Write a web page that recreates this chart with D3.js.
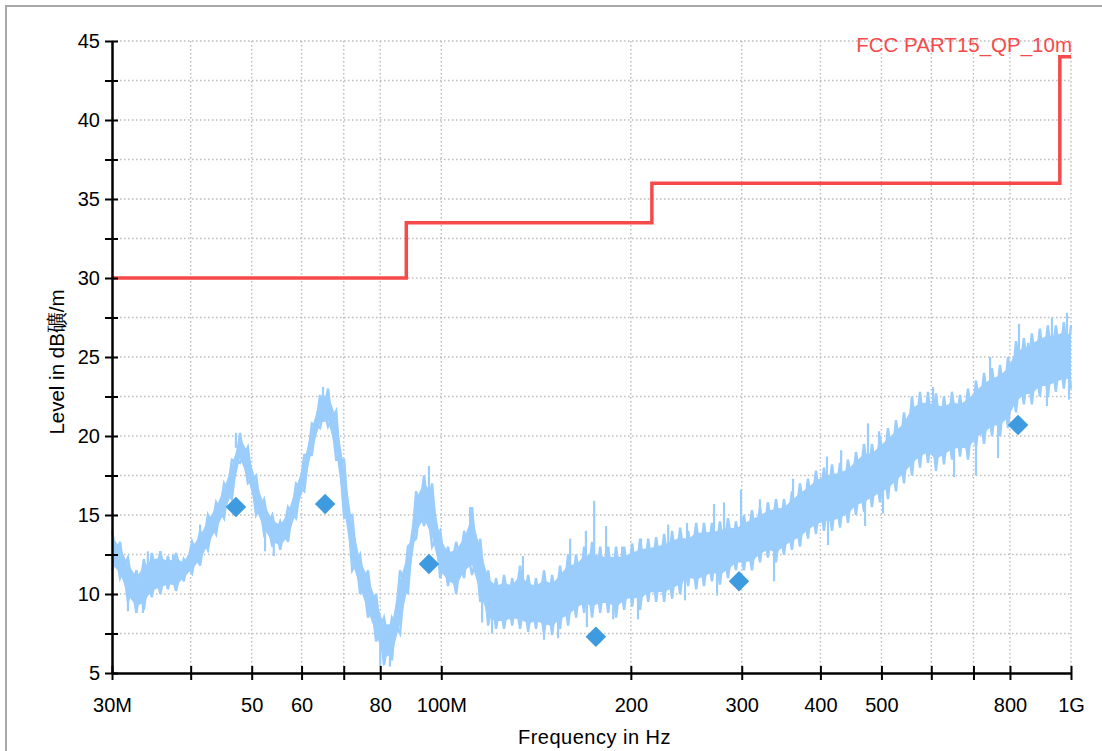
<!DOCTYPE html>
<html>
<head>
<meta charset="utf-8">
<script src="https://cdn.jsdelivr.net/npm/d3@7"></script>
<style>
  html, body { margin: 0; padding: 0; background: #fff; }
  svg { display: block; font-family: "Liberation Sans", Arial, Helvetica, sans-serif; }
</style>
</head>
<body>
<div id="chart"></div>
<script>
const freqMHz = [30.0, 30.9, 31.8, 32.8, 33.7, 34.7, 35.8, 36.8, 37.9, 39.0, 40.2, 41.4, 42.6, 43.9, 45.2, 46.5,
  47.9, 49.3, 50.8, 52.3, 53.9, 55.5, 57.1, 58.8, 60.6, 62.3, 64.2, 66.1, 68.1, 70.1, 72.2, 74.3, 76.5, 78.8,
  81.1, 83.5, 86.0, 88.5, 91.2, 93.9, 96.7, 99.6, 102.5, 105.6, 108.7, 111.9, 115.3, 118.7, 122.2, 125.8, 129.6,
  133.4, 137.4, 141.4, 145.6, 150.0, 154.4, 159.0, 163.7, 168.6, 173.6, 178.8, 184.1, 189.5, 195.2, 201.0, 206.9,
  213.1, 219.4, 225.9, 232.6, 239.5, 246.6, 254.0, 261.3, 269.0, 277.0, 285.3, 293.7, 302.4, 311.4, 320.7, 330.2,
  340.0, 350.1, 360.5, 371.2, 382.2, 393.5, 405.2, 417.3, 429.7, 442.4, 455.6, 469.1, 483.0, 497.4, 512.1, 527.3,
  543.0, 559.1, 575.7, 592.8, 610.4, 628.5, 647.2, 666.4, 686.2, 706.6, 727.6, 749.2, 771.4, 794.3, 817.9, 841.6,
  866.6, 892.3, 918.8, 946.1, 974.2, 1000];
const levelLo = [11.5, 11.0, 9.5, 8.8, 9.0, 9.8, 10.0, 10.3, 10.2, 10.8, 11.3, 11.8, 12.8, 13.8, 14.8, 16.0,
  18.3, 17.0, 15.0, 13.8, 13.0, 12.8, 13.3, 14.8, 16.5, 18.8, 20.5, 20.6, 18.5, 14.8, 11.5, 10.0, 8.5, 7.0,
  5.5, 5.8, 7.5, 10.0, 13.5, 14.3, 13.0, 11.0, 10.5, 10.0, 11.0, 11.2, 9.5, 8.0, 7.8, 7.8, 8.0,
  7.8, 7.6, 7.8, 7.5, 7.4, 7.8, 8.0, 8.5, 8.8, 8.5, 8.8, 8.8, 8.5, 9.0, 9.2, 9.0,
  9.5, 9.5, 9.5, 9.7, 10.0, 10.5, 10.3, 10.5, 10.8, 10.6, 11.0, 11.5, 11.5, 11.5, 12.0, 12.3,
  12.0, 12.5, 12.8, 13.0, 13.5, 13.8, 14.0, 14.0, 14.2, 14.5, 15.0, 15.2, 15.5, 15.8, 16.0, 16.5,
  17.0, 17.5, 18.0, 18.3, 17.8, 18.2, 18.5, 18.7, 18.5, 19.3, 19.5, 20.0, 20.0, 20.5, 21.5, 22.0,
  22.0, 22.5, 22.5, 22.8, 23.0, 23.0];
const levelHi = [14.0, 13.3, 12.3, 11.5, 12.2, 12.6, 12.7, 12.4, 12.6, 12.2, 13.3, 14.0, 15.0, 15.8, 17.0, 18.5,
  20.2, 19.3, 17.5, 16.0, 15.0, 14.6, 15.5, 17.0, 18.8, 20.8, 22.6, 23.0, 21.6, 18.5, 15.0, 12.5, 11.5, 10.0,
  8.5, 8.5, 11.5, 13.0, 16.5, 17.5, 17.0, 14.0, 13.0, 13.3, 14.0, 15.5, 13.5, 11.5, 11.0, 11.2, 11.0,
  11.8, 11.2, 11.0, 11.5, 11.2, 11.8, 12.5, 12.5, 13.0, 13.3, 13.0, 13.0, 13.0, 13.0, 13.2, 13.5,
  13.5, 13.6, 13.8, 14.0, 14.2, 14.0, 14.5, 14.5, 14.5, 14.6, 14.8, 14.6, 15.0, 15.3, 15.5, 15.8,
  16.0, 16.0, 16.5, 17.0, 17.3, 17.8, 18.0, 18.2, 18.3, 18.5, 19.0, 19.5, 19.5, 20.0, 20.5, 21.0,
  21.5, 22.5, 22.8, 22.8, 22.7, 22.5, 22.8, 22.6, 23.0, 23.5, 24.0, 24.3, 24.5, 25.0, 26.0, 26.2,
  26.5, 26.8, 27.0, 27.0, 27.2, 27.0];

// Single spikes sticking out of the band
const spikeFreq = [31.8, 33.6, 34.2, 35.8, 37.5, 41.4, 47.2, 52.5, 54.2, 64.9, 69.6, 80.0, 82.9, 95.6, 111.1,
  116.1, 120.4, 134.8, 145.6, 153.3, 160.2, 169.7, 170.3, 174.9, 182.7, 187.5, 193.7, 205.3, 207.6, 229.3,
  243.8, 245.6, 271.1, 274.1, 281.2, 299.2, 320.7, 330.2, 337.6, 361.9, 409.7, 411.3, 431.5, 470.9, 476.0,
  495.6, 502.9, 559.4, 603.9, 652.1, 706.5, 743.9, 765.8, 826.8, 854.5, 915.9, 932.8, 985.5, 992.8];
const spikeLevel = [8.9, 8.8, 12.7, 12.5, 12.5, 14.4, 20.2, 12.7, 12.4, 23.1, 18.1, 5.4, 5.4, 18.1, 15.5,
  8.2, 7.5, 12.4, 7.1, 7.2, 13.5, 14.0, 7.9, 15.9, 14.3, 8.4, 13.0, 8.4, 13.5, 14.4,
  9.6, 14.5, 15.7, 9.9, 15.8, 16.6, 16.0, 15.8, 10.8, 17.3, 18.7, 13.1, 19.1, 14.3, 20.8,
  20.3, 15.1, 21.5, 23.1, 17.4, 17.5, 25.0, 18.6, 27.1, 25.9, 21.9, 27.5, 27.8, 22.3];

// Final quasi-peak results
const markerFreq = [47.2, 65.4, 95.6, 176, 297, 824];
const markerLevel = [15.5, 15.7, 11.9, 7.3, 10.8, 20.7];

// Limit line FCC Part 15 QP 10m
const limitName = "FCC PART15_QP_10m";
const limitFreq = [30, 88, 88, 216, 216, 960, 960, 1000];
const limitLevel = [30, 30, 33.5, 33.5, 36, 36, 44, 44];

const xTickValues = [30, 40, 50, 60, 70, 80, 100, 200, 300, 400, 500, 600, 700, 800, 1000];
const xTickLabels = { 30: "30M", 50: "50", 60: "60", 80: "80", 100: "100M", 200: "200", 300: "300",
  400: "400", 500: "500", 800: "800", 1000: "1G" };
const yTickValues = [5, 7.5, 10, 12.5, 15, 17.5, 20, 22.5, 25, 27.5, 30, 32.5, 35, 37.5, 40, 42.5, 45];
const yTickLabels = [5, 10, 15, 20, 25, 30, 35, 40, 45];

const xTitle = "Frequency in Hz";
const yTitle = "Level in dB礦/m";

const width = 1102, height = 751;
const margin = { top: 41, right: 31, bottom: 78, left: 112 };
const iw = width - margin.left - margin.right;
const ih = height - margin.top - margin.bottom;

const traceColor = "#9bcdfc";
const markerColor = "#3e9be0";
const limitColor = "#f64a4a";

const x = d3.scaleLog().domain([30, 1000]).range([0, iw]);
const y = d3.scaleLinear().domain([5, 45]).range([ih, 0]);

const svg = d3.select("#chart").append("svg")
  .attr("width", width)
  .attr("height", height);

svg.append("rect").attr("width", width).attr("height", height).attr("fill", "#fff");

// outer frame
svg.append("path")
  .attr("d", `M6,${height + 5}V6H${width + 5}`)
  .attr("fill", "none")
  .attr("stroke", "#a8a8a8")
  .attr("stroke-width", 2);

const g = svg.append("g").attr("transform", `translate(${margin.left},${margin.top})`);

// grid
const grid = g.append("g")
  .attr("stroke", "#bdbdbd")
  .attr("stroke-width", 1.5)
  .attr("stroke-dasharray", "1.5,2.5");
grid.selectAll(".hg")
  .data(yTickValues.filter(v => v > 5))
  .join("line")
  .attr("x1", 0).attr("x2", iw)
  .attr("y1", d => y(d)).attr("y2", d => y(d));
grid.selectAll(".vg")
  .data(xTickValues.filter(v => v > 30))
  .join("line")
  .attr("y1", 0).attr("y2", ih)
  .attr("x1", d => x(d)).attr("x2", d => x(d));

// measured trace: solid core of the band plus a min/max zigzag for texture
const bins = freqMHz.map((f, i) => ({ f, lo: levelLo[i], hi: levelHi[i] }));
const trace = g.append("g");
trace.append("path")
  .datum(bins)
  .attr("fill", traceColor)
  .attr("d", d3.area()
    .x(d => x(d.f))
    .y0(d => y(d.lo + (d.hi - d.lo) * 0.15))
    .y1(d => y(d.hi - (d.hi - d.lo) * 0.15)));

trace.append("path")
  .datum(bins)
  .attr("fill", "none")
  .attr("stroke", traceColor)
  .attr("stroke-width", 2.4)
  .attr("d", d3.line()
    .x(d => x(d.f))
    .y((d, i) => y(i % 2 ? d.hi : d.lo)));

trace.append("path")
  .datum(bins)
  .attr("fill", "none")
  .attr("stroke", traceColor)
  .attr("stroke-width", 2.4)
  .attr("d", d3.line()
    .x(d => x(d.f))
    .y((d, i) => y(i % 2 ? d.lo : d.hi)));

const bis = d3.bisector(d => d.f).center;
trace.append("g")
  .attr("stroke", traceColor)
  .attr("stroke-width", 2.2)
  .selectAll("line")
  .data(spikeFreq.map((f, i) => ({ f, v: spikeLevel[i] })))
  .join("line")
  .attr("x1", d => x(d.f)).attr("x2", d => x(d.f))
  .attr("y1", d => y(d.v))
  .attr("y2", d => {
    const b = bins[bis(bins, d.f)];
    return y((b.lo + b.hi) / 2);
  });

// limit line
g.append("path")
  .datum(limitFreq.map((f, i) => [f, limitLevel[i]]))
  .attr("fill", "none")
  .attr("stroke", limitColor)
  .attr("stroke-width", 3.5)
  .attr("d", d3.line().x(d => x(d[0])).y(d => y(d[1])));

g.append("text")
  .attr("x", iw + 1)
  .attr("y", 11)
  .attr("text-anchor", "end")
  .attr("fill", limitColor)
  .attr("font-size", 20.5)
  .text(limitName);

// markers
g.append("g")
  .selectAll("path")
  .data(markerFreq.map((f, i) => ({ f, v: markerLevel[i] })))
  .join("path")
  .attr("fill", markerColor)
  .attr("d", d3.symbol(d3.symbolSquare, 210))
  .attr("transform", d => `translate(${x(d.f)},${y(d.v)}) rotate(45)`);

// axes
const xAxis = d3.axisBottom(x)
  .tickValues(xTickValues)
  .tickFormat(d => xTickLabels[d] || "")
  .tickSizeInner(7)
  .tickSizeOuter(0)
  .tickPadding(18);
const xg = g.append("g").attr("transform", `translate(0,${ih})`).call(xAxis);
xg.select(".domain").attr("stroke", "#000").attr("stroke-width", 2.5);
xg.selectAll(".tick line").attr("stroke", "#000").attr("stroke-width", 2).attr("y1", -7);
xg.selectAll(".tick text").attr("font-size", 20).attr("fill", "#000")
  .attr("font-family", "'Liberation Sans', Arial, sans-serif");

const yAxis = d3.axisLeft(y)
  .tickValues(yTickValues)
  .tickFormat(d => yTickLabels.includes(d) ? d3.format("d")(d) : "")
  .tickSizeInner(7)
  .tickSizeOuter(0)
  .tickPadding(5);
const yg = g.append("g").call(yAxis);
yg.select(".domain").attr("stroke", "#000").attr("stroke-width", 2.5);
yg.selectAll(".tick line").attr("stroke", "#000").attr("stroke-width", 2).attr("x1", 6);
yg.selectAll(".tick text").attr("font-size", 20).attr("fill", "#000")
  .attr("font-family", "'Liberation Sans', Arial, sans-serif");

// axis titles
svg.append("text")
  .attr("x", margin.left + iw / 2 + 3)
  .attr("y", 744)
  .attr("text-anchor", "middle")
  .attr("font-size", 20)
  .attr("letter-spacing", 0.5)
  .text(xTitle);

svg.append("text")
  .attr("transform", `translate(64,${362}) rotate(-90)`)
  .attr("text-anchor", "middle")
  .attr("font-size", 20.5)
  .text(yTitle);
</script>
</body>
</html>
